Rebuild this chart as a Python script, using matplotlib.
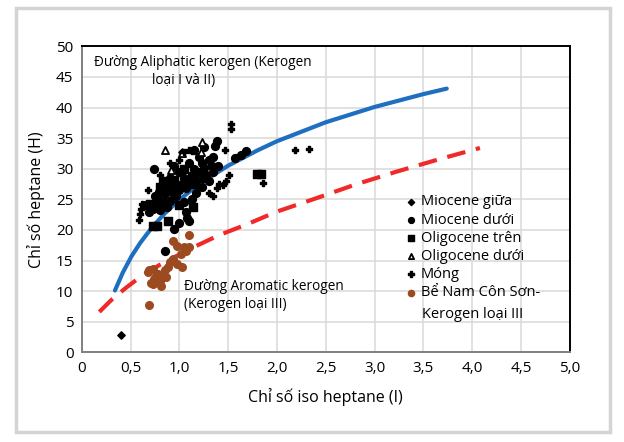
import matplotlib.pyplot as plt
from matplotlib.patches import Rectangle
from matplotlib.ticker import FixedLocator

plt.rcParams['font.family'] = ['Open Sans', 'DejaVu Sans']

# aliphatic kerogen line (Kerogen I & II)
aliph_x = [0.34, 0.42, 0.51, 0.60, 0.72, 0.85, 1.00, 1.20, 1.50, 1.80, 2.00, 2.50, 3.00, 3.50, 3.74]
aliph_y = [10.1, 13.0, 15.7, 17.9, 20.4, 22.7, 24.9, 27.5, 30.5, 33.0, 34.5, 37.6, 40.1, 42.2, 43.1]

# aromatic kerogen line (Kerogen III)
arom_x = [0.18, 0.30, 0.45, 0.59, 0.80, 1.11, 1.40, 1.69, 2.00, 2.37, 2.80, 3.22, 3.65, 4.08]
arom_y = [6.6, 8.5, 10.5, 12.2, 14.3, 16.9, 19.1, 20.9, 23.0, 25.0, 27.4, 29.5, 31.5, 33.4]

# Miocene giua
mg_x = [0.40, 1.03]
mg_y = [2.9, 32.7]

# Miocene duoi
md_x = [0.73, 0.77, 0.80, 0.83, 0.87, 0.75, 0.79, 0.85, 0.90, 0.93, 0.95, 0.97, 1.00, 1.03,
        1.05, 1.07, 1.10, 1.13, 1.15, 1.17, 1.20, 1.23, 1.25, 1.27, 1.30, 1.33, 1.35, 1.37,
        1.39, 1.20, 1.10, 1.00, 0.90, 1.05, 1.07, 1.08, 1.10, 1.13, 1.17, 1.23, 1.30, 1.35,
        1.40, 1.25, 1.15, 0.95, 0.87, 0.65, 0.69, 1.57, 1.63, 1.68, 0.74, 0.95, 1.00, 0.85]
md_y = [23.5, 24.0, 23.2, 24.5, 23.8, 25.5, 26.2, 25.8, 24.8, 26.0, 27.0, 25.5, 26.5, 27.5,
        28.5, 26.8, 27.8, 29.0, 30.0, 28.2, 29.5, 31.0, 30.2, 29.0, 31.5, 30.5, 32.0, 33.7,
        34.5, 32.0, 31.0, 29.5, 28.5, 24.5, 23.0, 22.0, 21.5, 25.0, 26.0, 27.0, 28.0, 29.5,
        30.5, 33.5, 33.0, 30.5, 27.2, 24.0, 23.0, 31.8, 32.3, 32.9, 29.9, 20.1, 21.1, 16.6]

# Oligocene tren
ot_x = [0.73, 0.77, 0.88, 1.14, 1.80, 1.84, 0.80, 0.85, 0.90, 0.83, 0.95, 1.00, 1.05, 1.15,
        1.25, 0.77, 0.70, 0.86, 0.93]
ot_y = [20.6, 20.6, 21.4, 23.8, 29.2, 29.2, 27.0, 26.5, 26.8, 28.0, 28.2, 24.0, 30.0, 27.5,
        28.5, 25.0, 24.3, 27.7, 28.0]

# Oligocene duoi
od_x = [0.85, 0.91, 1.03, 1.23, 1.22]
od_y = [33.0, 29.8, 32.6, 34.3, 32.8]

# Mong
mo_x = [0.59, 0.60, 0.61, 0.62, 0.68, 0.80, 1.05, 1.10, 1.13, 1.47, 1.41, 1.45, 1.39, 1.51,
        1.48, 1.86, 1.53, 1.53, 2.19, 2.33, 1.30, 1.35, 1.20, 1.00, 0.90]
mo_y = [21.6, 22.6, 23.5, 24.2, 26.5, 28.9, 32.8, 33.0, 32.9, 33.1, 27.5, 27.4, 26.9, 28.9,
        28.0, 27.7, 36.5, 37.3, 33.1, 33.2, 26.0, 25.5, 27.0, 31.5, 31.0]

# Be Nam Con Son - Kerogen III
ns_x = [1.10, 0.93, 0.98, 1.05, 1.10, 1.02, 0.93, 0.90, 0.98, 0.88, 0.85, 0.78, 0.83, 0.74,
        0.80, 0.73, 0.81, 0.71, 0.69, 1.07, 0.69, 0.68, 1.03, 0.73, 0.86, 0.76]
ns_y = [19.1, 18.2, 17.4, 17.2, 17.2, 16.1, 15.3, 14.7, 14.4, 13.9, 13.4, 12.8, 12.5, 12.0,
        11.7, 11.2, 10.9, 11.3, 7.7, 16.6, 13.4, 13.1, 13.9, 13.6, 12.3, 12.5]

xticks = [0, 0.5, 1.0, 1.5, 2.0, 2.5, 3.0, 3.5, 4.0, 4.5, 5.0]
xlabels = ['0', '0,5', '1,0', '1,5', '2,0', '2,5', '3,0', '3,5', '4,0', '4,5', '5,0']
yticks = [0, 5, 10, 15, 20, 25, 30, 35, 40, 45, 50]

fig = plt.figure(figsize=(6.24, 4.42), dpi=100)
ax = fig.add_axes([0.131, 0.203, 0.782, 0.692])

ax.plot(aliph_x, aliph_y, color='#1f6fc0', lw=3.0, solid_capstyle='round', zorder=4)
ax.plot(arom_x, arom_y, color='#f02a2a', lw=3.0, dashes=(4.5, 2.6), zorder=4)

ax.scatter(mg_x, mg_y, marker='D', s=14, color='black', label='Miocene giữa', zorder=5)
ax.scatter(md_x, md_y, marker='o', s=32, color='black', label='Miocene dưới', zorder=5)
ax.scatter(ot_x, ot_y, marker='s', s=30, color='black', label='Oligocene trên', zorder=5)
ax.scatter(od_x, od_y, marker='^', s=26, facecolors='white', edgecolors='black',
           linewidths=1.3, label='Oligocene dưới', zorder=5)
ax.scatter(mo_x, mo_y, marker='P', s=22, color='black', label='Móng', zorder=5)
ax.scatter(ns_x, ns_y, marker='o', s=30, color='#9c4a1f', label='Bể Nam Côn Sơn-', zorder=5)

ax.set_xlim(0, 5)
ax.set_ylim(0, 50)
ax.xaxis.set_major_locator(FixedLocator(xticks))
ax.set_xticklabels(xlabels)
ax.yaxis.set_major_locator(FixedLocator(yticks))
ax.tick_params(length=0, labelsize=11, pad=6)
ax.grid(True, color='#d9d9d9', lw=1.1)
ax.set_axisbelow(True)
for side in ['top', 'right']:
    ax.spines[side].set_color('black')
    ax.spines[side].set_linewidth(1.4)
for side in ['left', 'bottom']:
    ax.spines[side].set_color('#808080')
    ax.spines[side].set_linewidth(1.4)

ax.set_xlabel('Chỉ số iso heptane (I)', fontsize=11.5, labelpad=9)
ax.set_ylabel('Chỉ số heptane (H)', fontsize=11.5, labelpad=8)

ax.text(0.13, 47.4, 'Đường Aliphatic kerogen (Kerogen', fontsize=9.8, va='center')
ax.text(0.72, 44.4, 'loại I và II)', fontsize=9.8, va='center')
ax.text(1.05, 10.7, 'Đường Aromatic kerogen', fontsize=9.8, va='center')
ax.text(1.05, 7.8, '(Kerogen loại III)', fontsize=9.8, va='center')

leg = ax.legend(loc='upper left', bbox_to_anchor=(0.65, 0.54), frameon=False, fontsize=10.5,
                handlelength=0.6, handletextpad=0.4, labelspacing=0.22, borderpad=0)
for h, sz in zip(leg.legend_handles, [10, 18, 16, 14, 24, 20]):
    h.set_sizes([sz])
ax.text(0.697, 0.122, 'Kerogen loại III', transform=ax.transAxes, fontsize=10.5,
        va='center')

fig.patches.append(Rectangle((16, 10), 594, 424, transform=None, fill=False,
                             edgecolor='#d4d4d4', lw=2.5))

fig.savefig('out.png', dpi=100)
